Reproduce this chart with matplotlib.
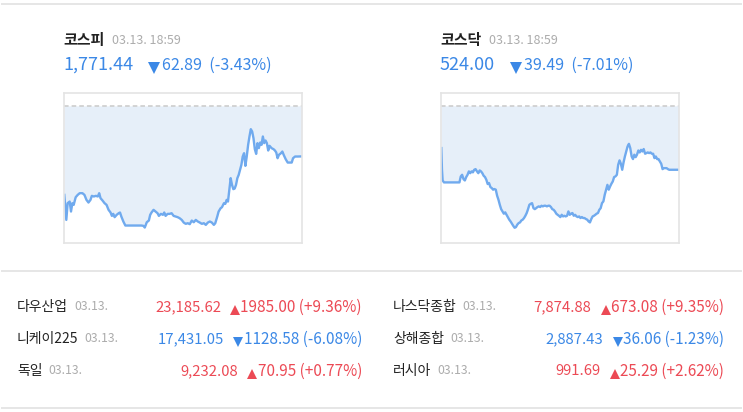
import matplotlib
matplotlib.use("Agg")
import matplotlib.pyplot as plt

plt.rcParams['font.family'] = ['Noto Sans CJK KR', 'DejaVu Sans']

# ---------------- data ----------------
kospi_name = "코스피"
kospi_time = "03.13. 18:59"
kospi_value = "1,771.44"
kospi_change = "62.89  (-3.43%)"
kospi_prev = 1834.33
kospi_x = [0, 3.3, 5.5, 8.8, 11, 13.2, 15.4, 18.7, 22, 25.3, 29.8, 33.1, 36.4, 39.7, 43, 45.2,
           48.5, 51.8, 55.1, 57.3, 59.5, 62.8, 66.1, 69.4, 72.7, 76, 78.2, 80.4, 82.7, 86, 89.3,
           91.5, 93.7, 97, 100.3, 104.7, 115.7, 126.7, 130, 132.2, 135.5, 138.9, 141.1, 143.3,
           146.6, 149.9, 153.2, 155.4, 158.7, 162, 164.2, 166.4, 169.7, 173, 176.3, 179.6, 182.9,
           186.2, 189.5, 192.9, 196.2, 199.5, 202.8, 206.1, 209.4, 212.7, 216, 219.3, 222.6,
           225.9, 229.2, 232.5, 235.8, 239.1, 242.4, 245.7, 248, 251.3, 253.5, 256.8, 259, 262.3,
           264.5, 266.7, 268.9, 271.1, 273.3, 275.5, 277.7, 279.9, 282.1, 284.3, 286.5, 288.7,
           290.9, 293.1, 295.3, 297.5, 299.7, 302, 304.2, 306.4, 308.6, 310.8, 313, 315.2, 317.4,
           319.6, 321.8, 324, 326.2, 328.4, 330.6, 332.8, 335, 337.2, 340.5, 343.8, 346, 348.2,
           350.4, 352.6, 355.9, 358.2, 360.4, 363.7, 367, 370.3, 373.6, 375.8, 379.1, 383.5, 390]
kospi_y = [1723.6, 1692.5, 1713.3, 1715.3, 1702.9, 1713.3, 1711.2, 1720.7, 1723.6, 1725.7, 1725.7,
           1723.6, 1717.4, 1714.1, 1717.4, 1722.4, 1721.6, 1722.4, 1721.6, 1725.7, 1719.5, 1716.6,
           1713.3, 1711.2, 1705.0, 1701.7, 1697.5, 1700.0, 1695.9, 1698.8, 1700.8, 1701.7, 1696.7,
           1690.5, 1685.5, 1685.5, 1685.5, 1685.5, 1685.1, 1683.0, 1689.6, 1691.7, 1698.8, 1701.7,
           1705.0, 1702.9, 1700.8, 1697.5, 1700.0, 1698.8, 1701.7, 1697.5, 1700.0, 1700.0, 1700.8,
           1697.5, 1696.7, 1695.9, 1694.6, 1692.5, 1689.2, 1687.6, 1688.4, 1687.2, 1691.7, 1689.6,
           1692.5, 1690.5, 1689.2, 1687.6, 1688.4, 1686.3, 1689.2, 1690.5, 1689.2, 1686.3, 1688.4,
           1696.7, 1702.9, 1707.0, 1708.3, 1713.3, 1712.4, 1717.4, 1715.3, 1729.8, 1744.4, 1736.1,
           1730.7, 1731.5, 1736.1, 1744.4, 1748.5, 1754.7, 1760.9, 1771.3, 1775.4, 1759.7, 1771.3,
           1785.8, 1796.2, 1805.3, 1802.4, 1794.1, 1780.4, 1774.6, 1787.9, 1781.7, 1788.7, 1785.8,
           1796.2, 1787.9, 1791.2, 1787.9, 1778.8, 1784.6, 1781.7, 1780.4, 1778.8, 1776.3, 1769.2,
           1773.4, 1775.4, 1777.5, 1773.4, 1768.0, 1763.8, 1763.8, 1763.8, 1769.2, 1771.3, 1771.3,
           1771.44]

kosdaq_name = "코스닥"
kosdaq_time = "03.13. 18:59"
kosdaq_value = "524.00"
kosdaq_change = "39.49  (-7.01%)"
kosdaq_prev = 563.49
kosdaq_x = [0, 1.1, 2.2, 4.4, 9.9, 21, 29.8, 32, 34.2, 36.5, 38.7, 40.9, 43.1, 45.3, 47.5, 49.7,
            51.9, 54.1, 56.3, 58.6, 60.8, 63, 65.2, 67.4, 69.6, 71.8, 74, 76.2, 78.4, 80.7, 82.9,
            85.1, 87.3, 89.5, 91.7, 93.9, 96.1, 98.3, 100.5, 102.7, 105, 107.2, 109.4, 111.6,
            113.8, 116, 118.2, 120.4, 122.6, 124.8, 127.1, 129.3, 131.5, 133.7, 135.9, 138.1,
            140.3, 142.5, 144.7, 146.9, 149.1, 151.4, 153.6, 155.8, 158, 160.2, 162.4, 164.6,
            166.8, 169, 171.2, 173.5, 175.7, 177.9, 180.1, 182.3, 184.5, 186.7, 188.9, 191.1,
            193.3, 195.6, 197.8, 200, 202.2, 204.4, 206.6, 208.8, 211, 213.2, 215.4, 217.6, 219.9,
            222.1, 224.3, 226.5, 228.7, 230.9, 233.1, 235.3, 237.5, 239.7, 242, 244.2, 246.4,
            248.6, 250.8, 253, 255.2, 257.4, 259.6, 261.8, 264, 266.3, 268.5, 270.7, 272.9, 275.1,
            277.3, 279.5, 281.7, 283.9, 286.1, 288.4, 290.6, 292.8, 295, 297.2, 299.4, 301.6,
            303.8, 306, 308.2, 310.4, 312.7, 314.9, 317.1, 319.3, 321.5, 323.7, 325.9, 328.1,
            330.3, 332.5, 334.8, 337, 339.2, 341.4, 343.6, 345.8, 348, 350.2, 352.4, 354.6, 356.8,
            359.1, 361.3, 363.5, 365.7, 367.9, 370.1, 372.3, 374.5, 377.8, 381.2, 385.6, 390]
kosdaq_y = [537.4, 524.0, 517.4, 516.2, 516.2, 516.2, 516.2, 519.9, 520.9, 518.2, 517.4, 519.5,
            520.9, 523.0, 521.9, 523.0, 522.4, 524.0, 524.4, 523.0, 521.9, 523.6, 523.0, 521.9,
            520.3, 519.5, 517.8, 515.2, 515.8, 513.3, 512.7, 511.7, 512.1, 511.7, 508.0, 505.5,
            502.4, 499.7, 498.3, 496.9, 497.7, 496.2, 494.8, 493.2, 492.1, 490.7, 489.4, 488.2,
            488.6, 490.1, 491.1, 491.5, 492.7, 493.2, 494.2, 495.6, 497.3, 499.7, 502.4, 503.0,
            503.4, 500.3, 499.7, 500.3, 501.0, 501.4, 501.0, 501.8, 501.4, 501.8, 501.8, 501.4,
            501.8, 501.8, 501.0, 499.7, 499.3, 498.3, 496.9, 496.2, 495.6, 494.8, 496.2, 495.2,
            495.6, 495.2, 495.6, 498.3, 496.2, 496.9, 497.3, 495.6, 496.2, 495.2, 494.8, 495.2,
            494.2, 494.8, 494.2, 494.2, 493.6, 493.2, 492.1, 491.5, 493.6, 495.2, 495.6, 496.2,
            496.9, 497.3, 499.3, 500.3, 503.4, 504.5, 508.6, 511.7, 514.7, 511.7, 513.7, 515.4,
            516.8, 519.5, 519.9, 520.9, 527.1, 529.8, 527.7, 524.0, 528.5, 532.2, 535.3, 538.4,
            540.0, 537.4, 532.2, 530.6, 533.3, 531.8, 533.3, 535.9, 534.7, 536.3, 535.3, 536.8,
            533.9, 534.3, 534.7, 534.3, 534.7, 533.9, 533.9, 531.2, 532.2, 530.6, 530.6, 529.1,
            527.7, 524.4, 525.0, 525.0, 525.0, 524.4, 524.0, 524.0, 524.0, 524.0, 524.0]

left_names = ["다우산업", "니케이225", "독일"]
left_values = ["23,185.62", "17,431.05", "9,232.08"]
left_changes = ["1985.00 (+9.36%)", "1128.58 (-6.08%)", "70.95 (+0.77%)"]
left_up = [True, False, True]
right_names = ["나스닥종합", "상해종합", "러시아"]
right_values = ["7,874.88", "2,887.43", "991.69"]
right_changes = ["673.08 (+9.35%)", "36.06 (-1.23%)", "25.29 (+2.62%)"]
right_up = [True, False, True]
row_date = "03.13."

# ---------------- styles ----------------
W, H = 743, 412
BLUE = '#3b88e6'
RED = '#ec4a55'
GRAY = '#acacac'
DARK = '#222222'
LINE = '#70aaee'
FILL = '#e6eff9'
RULE = '#e4e4e4'

fig = plt.figure(figsize=(W / 100, H / 100), dpi=100)
bg = fig.add_axes([0, 0, 1, 1])
bg.set_xlim(0, W)
bg.set_ylim(H, 0)
bg.axis('off')
renderer = fig.canvas.get_renderer()


def right_of(t):
    bb = t.get_window_extent(renderer)
    return bg.transData.inverted().transform((bb.x1, bb.y0))[0]


def left_of(t):
    bb = t.get_window_extent(renderer)
    return bg.transData.inverted().transform((bb.x0, bb.y0))[0]


# horizontal rules
for yy in (4, 271, 408):
    bg.plot([1, 742], [yy, yy], color=RULE, lw=1.3, solid_capstyle='butt')


def header(x0, name, time, value, change):
    t = bg.text(x0, 40, name, fontsize=10.8, fontweight='bold', color=DARK, va='center')
    bg.text(right_of(t) + 8, 40, time, fontsize=9, color=GRAY, va='center')
    v = bg.text(x0, 65, value, fontsize=13, color=BLUE, va='center')
    tx = right_of(v) + 21
    bg.plot([tx], [68], marker='v', color=BLUE, markersize=8.5, markeredgewidth=0)
    bg.text(tx + 8, 65, change, fontsize=11.5, color=BLUE, va='center')


header(63, kospi_name, kospi_time, kospi_value, kospi_change)
header(440, kosdaq_name, kosdaq_time, kosdaq_value, kosdaq_change)


def chart(left_px, xs, ys, prev, ylo, yhi):
    ax = fig.add_axes([left_px / W, 1 - 242.5 / H, 238 / W, 150 / H])
    ax.fill_between(xs, ys, prev, color=FILL, lw=0)
    ax.plot(xs, ys, color=LINE, lw=1.7, solid_joinstyle='round')
    ax.axhline(prev, color='#c9c9c9', lw=1.1, ls=(0, (3, 2)))
    ax.set_xlim(-0.5, 390.5)
    ax.set_ylim(ylo, yhi)
    ax.set_xticks([])
    ax.set_yticks([])
    for s in ax.spines.values():
        s.set_color(RULE)
        s.set_linewidth(1.2)


chart(64, kospi_x, kospi_y, kospi_prev, 1664.4, 1850.9)
chart(441, kosdaq_x, kosdaq_y, kosdaq_prev, 479.1, 571.7)


def table(x_label, x_right, names, values, changes, ups):
    rows_y = [307, 339, 371]
    for yy, n, v, c, up in zip(rows_y, names, values, changes, ups):
        col = RED if up else BLUE
        t = bg.text(x_label, yy, n, fontsize=10, color=DARK, va='center')
        bg.text(right_of(t) + 6, yy, row_date, fontsize=8.8, color=GRAY, va='center')
        ct = bg.text(x_right, yy, c, fontsize=11, color=col, va='center', ha='right')
        tx = left_of(ct) - 5.5
        bg.plot([tx], [yy + 3], marker='^' if up else 'v', color=col, markersize=7,
                markeredgewidth=0)
        bg.text(tx - 14, yy, v, fontsize=10.7, color=col, va='center', ha='right')


table(17, 362, left_names, left_values, left_changes, left_up)
table(393, 724, right_names, right_values, right_changes, right_up)

fig.savefig("out.png", dpi=100)
